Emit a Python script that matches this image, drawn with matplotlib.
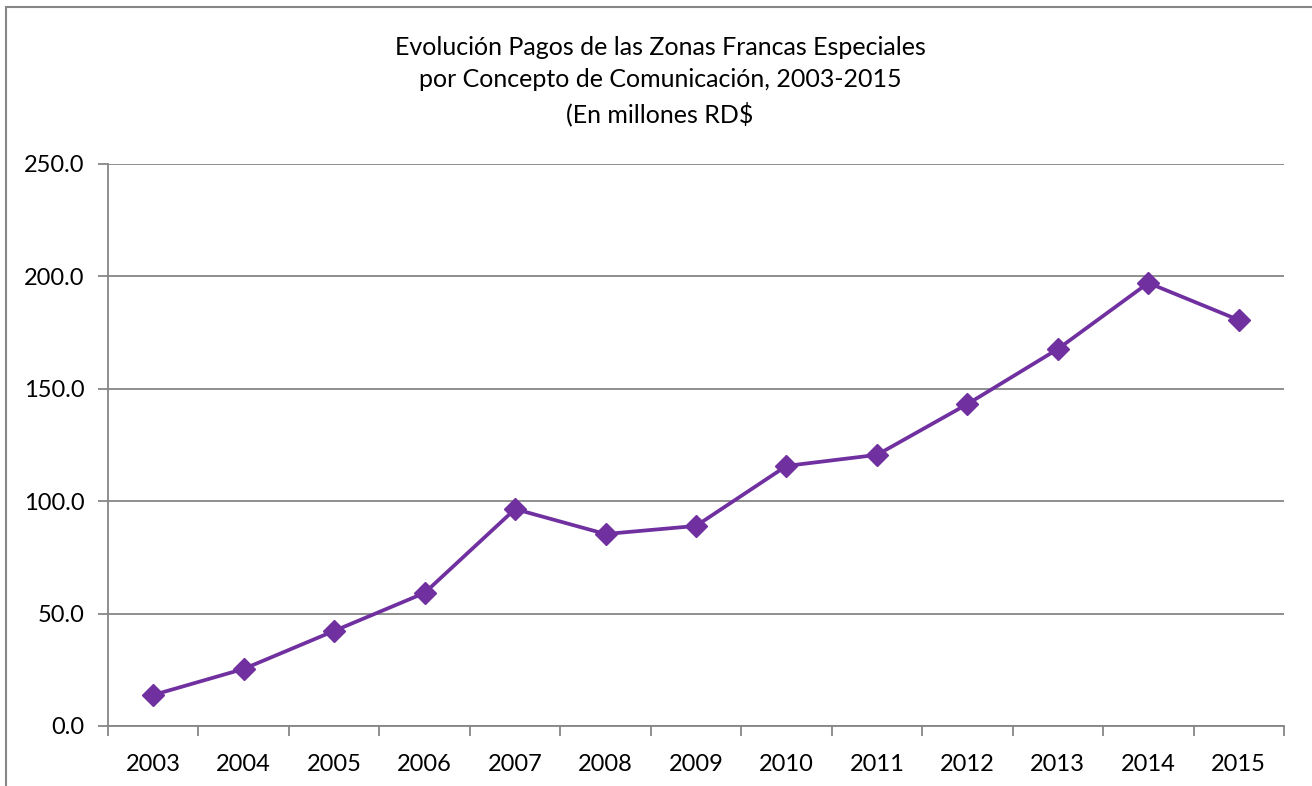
import matplotlib.pyplot as plt
from matplotlib.patches import Rectangle
import numpy as np

years = ['2003', '2004', '2005', '2006', '2007', '2008', '2009',
         '2010', '2011', '2012', '2013', '2014', '2015']
pagos = [13.8, 25.4, 42.3, 59.2, 96.5, 85.4, 89.0,
         115.7, 120.6, 143.2, 167.7, 197.1, 180.6]
y_ticks = [0, 50, 100, 150, 200, 250]

title_lines = ['Evolución Pagos de las Zonas Francas Especiales',
               'por Concepto de Comunicación, 2003-2015',
               '(En millones RD$']

plt.rcParams['font.family'] = ['Lato', 'DejaVu Sans']

W, H = 1312, 786
fig = plt.figure(figsize=(W / 100, H / 100), dpi=100)
ax = fig.add_axes([108 / W, (H - 726) / H, (1284 - 108) / W, (726 - 164) / H])

grid_color = '#868686'
x = np.arange(len(years))

# Outer chart frame (cut by the image edges on right/bottom)
frame = Rectangle((6 / W, -0.05), 1.2, 1 - 7 / H + 0.05, transform=fig.transFigure,
                  fill=False, edgecolor=grid_color, linewidth=1.5, clip_on=False)
fig.patches.append(frame)

ax.plot(x, pagos, color='#7030A0', linewidth=2.7, marker='D', markersize=11,
        markerfacecolor='#7030A0', markeredgecolor='#7030A0', zorder=3)

ax.set_xlim(-0.5, len(years) - 0.5)
ax.set_ylim(0, 250)
ax.set_yticks(y_ticks)
ax.set_yticklabels([f'{v:.1f}' for v in y_ticks])
ax.set_xticks(x)
ax.set_xticklabels(years)
ax.set_xticks(np.arange(-0.5, len(years)), minor=True)

ax.grid(axis='y', color=grid_color, linewidth=1.3)
ax.set_axisbelow(True)
for side in ['top', 'right']:
    ax.spines[side].set_visible(False)
for side in ['left', 'bottom']:
    ax.spines[side].set_color(grid_color)
    ax.spines[side].set_linewidth(1.3)

ax.tick_params(axis='x', which='major', length=0, labelsize=17, pad=20)
ax.tick_params(axis='x', which='minor', length=7, width=1.3, color=grid_color,
               direction='out')
ax.tick_params(axis='y', length=7, width=1.3, color=grid_color, labelsize=17, pad=10)

fig.text(660 / W, 1 - 81 / H, '\n'.join(title_lines), ha='center', va='center',
         fontsize=18, linespacing=1.5)

fig.savefig('out.png', dpi=100)
